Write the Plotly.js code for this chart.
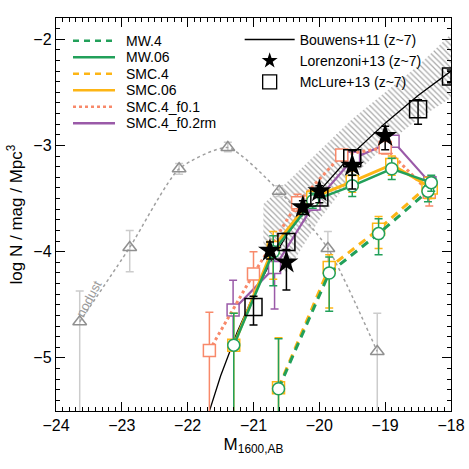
<!DOCTYPE html>
<html><head><meta charset="utf-8">
<script src="https://cdn.plot.ly/plotly-3.0.1.min.js"></script>
<style>html,body{margin:0;padding:0;background:#fff}#chart{width:469px;height:469px}</style>
</head><body><div id="chart"></div>
<script>
// ---- data ----
var bouwensM = [-21.7,-21.5,-21.25,-21.0,-20.75,-20.5,-20.25,-20.0,-19.5,-19.0,-18.5,-18.0];
var bouwensLogN = [-5.56,-5.17,-4.76,-4.41,-4.11,-3.85,-3.63,-3.43,-3.08,-2.79,-2.53,-2.30];
var bandM = [-20.85,-20.5,-20.0,-19.5,-19.0,-18.5,-18.0];
var bandUpper = [-3.55,-3.35,-3.05,-2.75,-2.5,-2.25,-1.95];
var bandLower = [-4.0,-4.2,-3.7,-3.3,-3.0,-2.75,-2.55];

var nodustM = [-23.64,-22.88,-22.13,-21.39,-20.61,-19.87,-19.12];
var nodustLogN = [-4.66,-3.96,-3.22,-3.02,-3.43,-3.97,-4.94];
var nodustErrUp = [0.29,0.16,0.05,0.05,0.05,0.16,0.36];
var nodustErrDn = [1.0,0.23,0.05,0.04,0.05,0.2,1.0];

var mw06M = [-21.3,-20.7,-20.1,-19.5,-18.9,-18.3];
var mw06LogN = [-4.88,-4.00,-3.52,-3.38,-3.22,-3.35];
var mw06ErrUp = [0.3,0.15,0.07,0.1,0.1,0.07];
var mw06ErrDn = [0.7,0.32,0.07,0.1,0.1,0.08];

var smc06M = [-21.3,-20.7,-20.1,-19.5,-18.9,-18.3];
var smc06LogN = [-4.88,-3.96,-3.49,-3.34,-3.18,-3.40];
var smc06ErrUp = [0.3,0.15,0.07,0.1,0.08,0.07];
var smc06ErrDn = [0.7,0.3,0.07,0.1,0.1,0.1];

var mw4M = [-20.62,-19.85,-19.1,-18.35];
var mw4LogN = [-5.29,-4.20,-3.83,-3.43];
var mw4ErrUp = [0.47,0.15,0.14,0.05];
var mw4ErrDn = [0.3,0.36,0.2,0.1];

var smc4M = [-20.62,-19.85,-19.1,-18.35];
var smc4LogN = [-5.28,-4.15,-3.79,-3.38];
var smc4ErrUp = [0.47,0.12,0.12,0.08];
var smc4ErrDn = [0.3,0.38,0.18,0.12];

var f01M = [-21.67,-21.0,-20.33,-19.66,-19.0,-18.33];
var f01LogN = [-4.93,-4.21,-3.54,-3.09,-3.02,-3.44];
var f01ErrUp = [0.36,0.21,0.08,0.04,0.05,0.05];
var f01ErrDn = [0.6,0.23,0.08,0.04,0.06,0.13];

var f02M = [-21.31,-20.68,-20.08,-19.48,-18.88,-18.32];
var f02LogN = [-4.55,-4.15,-3.55,-3.12,-2.96,-3.35];
var f02ErrUp = [0.28,0.08,0.06,0.04,0.04,0.05];
var f02ErrDn = [0.35,0.39,0.06,0.04,0.04,0.05];

var lorM = [-20.75,-20.5,-20.25,-20.0,-19.5,-19.0];
var lorLogN = [-3.99,-4.10,-3.58,-3.43,-3.19,-2.91];
var lorErrUp = [0.08,0.12,0.06,0.05,0.14,0.09];
var lorErrDn = [0.08,0.26,0.07,0.06,0.22,0.13];

var mclM = [-21.0,-20.5,-20.0,-19.5,-18.5,-18.0];
var mclLogN = [-4.52,-3.91,-3.49,-3.12,-2.66,-2.35];
var mclErrUp = [0.1,0.08,0.05,0.08,0.09,0.06];
var mclErrDn = [0.17,0.08,0.05,0.16,0.14,0.06];

var legendNames = ["MW.4","MW.06","SMC.4","SMC.06","SMC.4_f0.1","SMC.4_f0.2rm"];
var obsNames = ["Bouwens+11 (z~7)","Lorenzoni+13 (z~7)","McLure+13 (z~7)"];

// ---- styles ----
var GREEN = "#22a05a", ORANGE = "#fdb515", SALMON = "#f8896a", PURPLE = "#9a5aa8";
var FONT = "Liberation Sans, Arial, Helvetica, sans-serif";

function err(up, dn, color) {
  return {type:"data", symmetric:false, array:up, arrayminus:dn, color:color, thickness:1.5, width:4};
}
function model(x, y, up, dn, color, dash, sym, lw) {
  return {x:x, y:y, type:"scatter", mode:"lines+markers", showlegend:false,
    line:{color:color, width:lw, dash:dash},
    marker:{symbol:sym, size:12, color:"white", line:{color:color, width:1.5}},
    error_y: err(up, dn, color)};
}

var traces = [];
traces.push({x: bandM.concat(bandM.slice().reverse()), y: bandUpper.concat(bandLower.slice().reverse()),
  type:"scatter", mode:"lines", fill:"toself", line:{width:0}, fillcolor:"rgba(255,255,255,0)",
  fillpattern:{shape:"\\", fgcolor:"#a8a8a8", bgcolor:"rgba(255,255,255,0)", size:4, solidity:0.3},
  showlegend:false, hoverinfo:"skip"});
traces.push({x:bouwensM, y:bouwensLogN, type:"scatter", mode:"lines", line:{color:"black", width:1.3}, showlegend:false});
traces.push({x:nodustM, y:nodustLogN, type:"scatter", mode:"lines+markers", showlegend:false,
  line:{color:"#a0a0a0", width:1.5, dash:"dot", shape:"spline", smoothing:0.6},
  marker:{symbol:"triangle-up-open", size:12, color:"#909090", line:{width:1.5}},
  error_y: err(nodustErrUp, nodustErrDn, "#cccccc")});
traces.push(model(f02M, f02LogN, f02ErrUp, f02ErrDn, PURPLE, "solid", "square", 2.2));
traces.push(model(f01M, f01LogN, f01ErrUp, f01ErrDn, SALMON, "dot", "square", 3));
traces.push(model(smc4M, smc4LogN, smc4ErrUp, smc4ErrDn, ORANGE, "8px,6px", "square", 3));
traces.push(model(smc06M, smc06LogN, smc06ErrUp, smc06ErrDn, ORANGE, "solid", "square", 3));
traces.push(model(mw4M, mw4LogN, mw4ErrUp, mw4ErrDn, GREEN, "8px,6px", "circle", 3));
traces.push(model(mw06M, mw06LogN, mw06ErrUp, mw06ErrDn, GREEN, "solid", "circle", 2.5));
traces.push({x:mclM, y:mclLogN, type:"scatter", mode:"markers", showlegend:false,
  marker:{symbol:"square-open", size:17, color:"black", line:{width:1.5}},
  error_y: err(mclErrUp, mclErrDn, "black")});
traces.push({x:lorM, y:lorLogN, type:"scatter", mode:"markers", showlegend:false,
  marker:{symbol:"star", size:18, color:"black"},
  error_y: err(lorErrUp, lorErrDn, "black")});

// right legend (plotly legend)
traces.push({x:[null], y:[null], type:"scatter", mode:"lines", name:obsNames[0], line:{color:"black", width:1.3}});
traces.push({x:[null], y:[null], type:"scatter", mode:"markers", name:obsNames[1], marker:{symbol:"star", size:12, color:"black"}});
traces.push({x:[null], y:[null], type:"scatter", mode:"markers", name:obsNames[2], marker:{symbol:"square-open", size:14, color:"black", line:{width:1.3}}});

// left legend drawn as shapes + annotations (pixel rows converted to paper coords)
var L = 56, T = 18, W = 395, H = 393;
function px2x(p){ return (p - L) / W; }
function px2y(p){ return (T + H - p) / H; }
var legStyles = [
  {color:GREEN, dash:"6px,5px"}, {color:GREEN, dash:"solid"},
  {color:ORANGE, dash:"6px,5px"}, {color:ORANGE, dash:"solid"},
  {color:SALMON, dash:"dot"}, {color:PURPLE, dash:"solid"}];
var shapes = [], annotations = [];
legendNames.forEach(function(n, i) {
  var row = 40.7 + i * 16.5;
  shapes.push({type:"line", xref:"paper", yref:"paper", x0:px2x(73), x1:px2x(115), y0:px2y(row), y1:px2y(row),
    line:{color:legStyles[i].color, dash:legStyles[i].dash, width:2.5}});
  annotations.push({xref:"paper", yref:"paper", x:px2x(124), y:px2y(row), xanchor:"left", yanchor:"middle",
    text:n, showarrow:false, font:{family:FONT, size:14, color:"black"}});
});
annotations.push({x:-23.5, y:-4.44, xref:"x", yref:"y", text:"nodust", showarrow:false,
  textangle:-62, font:{family:FONT, size:13, color:"#9a9a9a"}});

var axisCommon = {showgrid:false, zeroline:false, showline:true, linecolor:"black", linewidth:1.2,
  mirror:"ticks", ticks:"inside", ticklen:9, tickwidth:1.2, tickcolor:"black",
  tickfont:{family:FONT, size:16, color:"black"},
  minor:{dtick:0.1, ticks:"inside", ticklen:4, tickwidth:1, tickcolor:"black"}};

var layout = {
  width:469, height:469, margin:{l:56, r:18, t:18, b:58},
  paper_bgcolor:"white", plot_bgcolor:"white",
  font:{family:FONT, color:"black"},
  xaxis: Object.assign({}, axisCommon, {range:[-24,-18], dtick:1, tick0:-24,
    title:{text:"M<sub>1600,AB</sub>", font:{family:FONT, size:17}, standoff:4}}),
  yaxis: Object.assign({}, axisCommon, {range:[-5.5,-1.8], dtick:1, tick0:-5,
    title:{text:"log N / mag / Mpc<sup>3</sup>", font:{family:FONT, size:17}, standoff:6}}),
  legend:{x:0.465, y:0.985, xanchor:"left", yanchor:"top", bgcolor:"rgba(0,0,0,0)",
    font:{family:FONT, size:14}, itemwidth:50},
  shapes:shapes, annotations:annotations,
  showlegend:true
};

Plotly.newPlot("chart", traces, layout, {staticPlot:true, displayModeBar:false});
</script></body></html>
